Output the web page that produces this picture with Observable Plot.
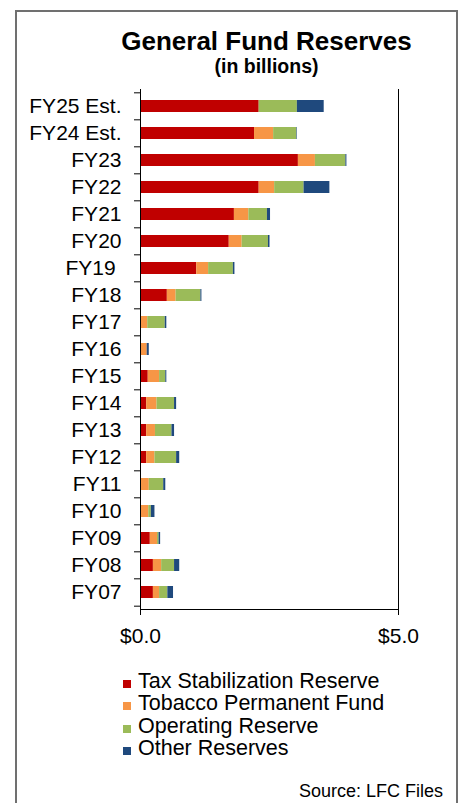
<!DOCTYPE html>
<html>
<head>
<meta charset="utf-8">
<script src="https://cdn.jsdelivr.net/npm/d3@7"></script>
<script src="https://cdn.jsdelivr.net/npm/@observablehq/plot@0.6"></script>
<style>
  html, body { margin: 0; padding: 0; background: #fff; }
  body { width: 462px; height: 803px; position: relative; overflow: hidden; font-family: "Liberation Sans", Arial, sans-serif; color: #000; }
  #frame { position: absolute; left: 15px; top: 10px; width: 439px; height: 800px; border: 2px solid #707070; border-bottom: none; }
  #chart { position: absolute; left: 0; top: 0; }
  .title { position: absolute; left: 70px; width: 393px; text-align: center; font-weight: bold; white-space: nowrap; }
  #t1 { top: 28px; font-size: 26px; line-height: 26px; }
  #t2 { top: 57px; font-size: 19.5px; line-height: 19.5px; }
  #legend { position: absolute; left: 123px; top: 669.5px; font-size: 21.5px; line-height: 22.5px; white-space: nowrap; }
  #legend .sw { display: inline-block; width: 8px; height: 8px; margin-right: 7px; }
  #source { position: absolute; right: 19px; top: 781.8px; font-size: 18px; line-height: 18px; white-space: nowrap; }
</style>
</head>
<body>
<div id="frame"></div>
<div id="chart"></div>
<div class="title" id="t1">General Fund Reserves</div>
<div class="title" id="t2">(in billions)</div>
<div id="legend"></div>
<div id="source">Source: LFC Files</div>
<script>
// Categories, top to bottom
const categories = ["FY25 Est.", "FY24 Est.", "FY23", "FY22", "FY21", "FY20", "FY19 ", "FY18", "FY17", "FY16", "FY15", "FY14", "FY13", "FY12", "FY11", "FY10", "FY09", "FY08", "FY07"];

// Series (billions)
const seriesNames = ["Tax Stabilization Reserve", "Tobacco Permanent Fund", "Operating Reserve", "Other Reserves"];
const seriesColors = ["#C00000", "#F79646", "#9BBB59", "#1F497D"];

const taxStabilization = [2.30, 2.21, 3.06, 2.30, 1.82, 1.72, 1.09, 0.52, 0.00, 0.00, 0.15, 0.12, 0.12, 0.12, 0.00, 0.00, 0.19, 0.25, 0.25];
const tobaccoPermanent = [0.00, 0.37, 0.33, 0.30, 0.28, 0.25, 0.23, 0.17, 0.14, 0.13, 0.22, 0.20, 0.17, 0.16, 0.17, 0.16, 0.14, 0.16, 0.12];
const operatingReserve = [0.74, 0.45, 0.59, 0.57, 0.36, 0.51, 0.48, 0.48, 0.34, 0.00, 0.12, 0.34, 0.32, 0.42, 0.28, 0.05, 0.03, 0.25, 0.16];
const otherReserves    = [0.52, 0.01, 0.02, 0.50, 0.06, 0.03, 0.03, 0.02, 0.03, 0.04, 0.02, 0.04, 0.05, 0.06, 0.04, 0.07, 0.03, 0.10, 0.11];

const xTicks = [0, 5];

const seriesValues = [taxStabilization, tobaccoPermanent, operatingReserve, otherReserves];
const data = [];
seriesNames.forEach((s, si) => {
  categories.forEach((c, ci) => {
    data.push({ year: c, series: s, value: seriesValues[si][ci] });
  });
});

const W = 462, H = 660, mt = 89, mb = 51, ml = 140, mr = 64;
const step = (H - mt - mb) / categories.length;
const padInner = 0.573;

const chart = Plot.plot({
  width: W,
  height: H,
  marginTop: mt,
  marginBottom: mb,
  marginLeft: ml,
  marginRight: mr,
  style: { fontFamily: "'Liberation Sans', Arial, sans-serif", fontSize: "21px", background: "transparent", color: "#000", overflow: "visible" },
  x: { domain: [0, 5], label: null },
  y: { domain: categories, paddingInner: padInner, paddingOuter: padInner / 2, label: null },
  color: { domain: seriesNames, range: seriesColors },
  marks: [
    Plot.barX(data, Plot.stackX({ x: "value", y: "year", fill: "series", order: seriesNames })),
    Plot.ruleX([5], { stroke: "#000", strokeWidth: 1 }),
    Plot.ruleX([0], { stroke: "#000", strokeWidth: 1 }),
    Plot.frame({ anchor: "bottom", stroke: "#000" }),
    Plot.axisX({ ticks: xTicks, tickFormat: d => "$" + d.toFixed(1), tickSize: 6, tickPadding: 13, fontSize: 21, label: null }),
    Plot.axisY({ tickSize: 0, tickPadding: 19, fontSize: 21, tickFormat: d => d.replace(/ $/, "\u00a0"), label: null }),
    Plot.axisY({ tickSize: 6, tickFormat: () => "", dy: -step / 2, label: null }),
    Plot.axisY({ ticks: [categories[categories.length - 1]], tickSize: 6, tickFormat: () => "", dy: step / 2, label: null })
  ]
});
document.getElementById("chart").appendChild(chart);

const legend = document.getElementById("legend");
seriesNames.forEach((s, i) => {
  const row = document.createElement("div");
  const sw = document.createElement("span");
  sw.className = "sw";
  sw.style.background = seriesColors[i];
  row.appendChild(sw);
  row.appendChild(document.createTextNode(s));
  legend.appendChild(row);
});
</script>
</body>
</html>
